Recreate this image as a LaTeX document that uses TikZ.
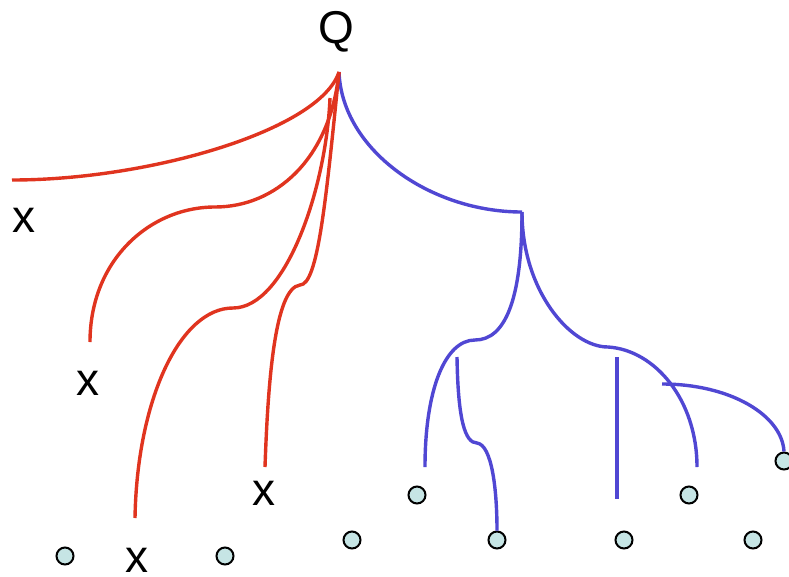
\documentclass[tikz,border=0pt]{standalone}
\usepackage{fontspec}
\setmainfont{Liberation Sans}
\usetikzlibrary{positioning}
\definecolor{BranchRed}{HTML}{E0341F}
\definecolor{BranchBlue}{HTML}{5047D3}
\definecolor{LeafFill}{HTML}{C6E5E5}

\begin{document}
\begin{tikzpicture}[x=1pt,y=-1pt,
  redbranch/.style={draw=BranchRed,line width=3.4pt},
  bluebranch/.style={draw=BranchBlue,line width=3.4pt},
  leaf/.style={circle,draw=black,fill=LeafFill,line width=2pt,minimum size=17pt,inner sep=0pt},
  ptlabel/.style={font=\fontsize{46}{50}\selectfont,inner sep=0pt}
]
  \useasboundingbox (0,0) rectangle (789,576);
  % query and branch points
  \node[ptlabel] (q) at (336,32) {Q};
  \coordinate (root) at (339,72);
  \coordinate (fork) at (522,212);
  \coordinate (cstart) at (330,98);
  % labelled points
  \node[ptlabel] (x1) at (24,220) {x};
  \node[ptlabel] (x2) at (88,383) {x};
  \node[ptlabel] (x3) at (137,560) {x};
  \node[ptlabel] (x4) at (264,493) {x};
  \coordinate (e1) at (12,180);
  \coordinate (e2) at (90,342);
  \coordinate (e3) at (135,518);
  \coordinate (e4) at (265,467);
  % leaves
  \node[leaf] (c1) at (65,556) {};
  \node[leaf] (c2) at (225,556) {};
  \node[leaf] (c3) at (352,540) {};
  \node[leaf] (c4) at (497,540) {};
  \node[leaf] (c5) at (624,540) {};
  \node[leaf] (c6) at (753,540) {};
  \node[leaf] (c7) at (417,495) {};
  \node[leaf] (c8) at (689,495) {};
  \node[leaf] (c9) at (784,461) {};
  % blue side
  \draw[bluebranch] (root) .. controls (342,150) and (430,212) .. (fork);
  \draw[bluebranch] (fork) .. controls (522,300) and (505,340) .. (475,340)
    .. controls (445,340) and (425,390) .. (425,467);
  \draw[bluebranch] (fork) .. controls (522,290) and (570,347) .. (608,347)
    .. controls (655,350) and (697,400) .. (697,467);
  \draw[bluebranch] (457,357) .. controls (458,420) and (465,443) .. (477,443)
    .. controls (492,445) and (497,490) .. (c4.north);
  \draw[bluebranch] (617,357) -- (617,499);
  \draw[bluebranch] (662,384) .. controls (730,384) and (782,415) .. (c9.north);
  % red side
  \draw[redbranch] (root) .. controls (320,130) and (150,180) .. (e1);
  \draw[redbranch] (root) .. controls (330,160) and (275,207) .. (215,207)
    .. controls (150,207) and (90,260) .. (e2);
  \draw[redbranch] (cstart) .. controls (326,190) and (285,308) .. (233,308)
    .. controls (180,308) and (137,400) .. (e3);
  \draw[redbranch] (root) .. controls (326,200) and (318,285) .. (300,285)
    .. controls (275,288) and (268,380) .. (e4);
\end{tikzpicture}
\end{document}
